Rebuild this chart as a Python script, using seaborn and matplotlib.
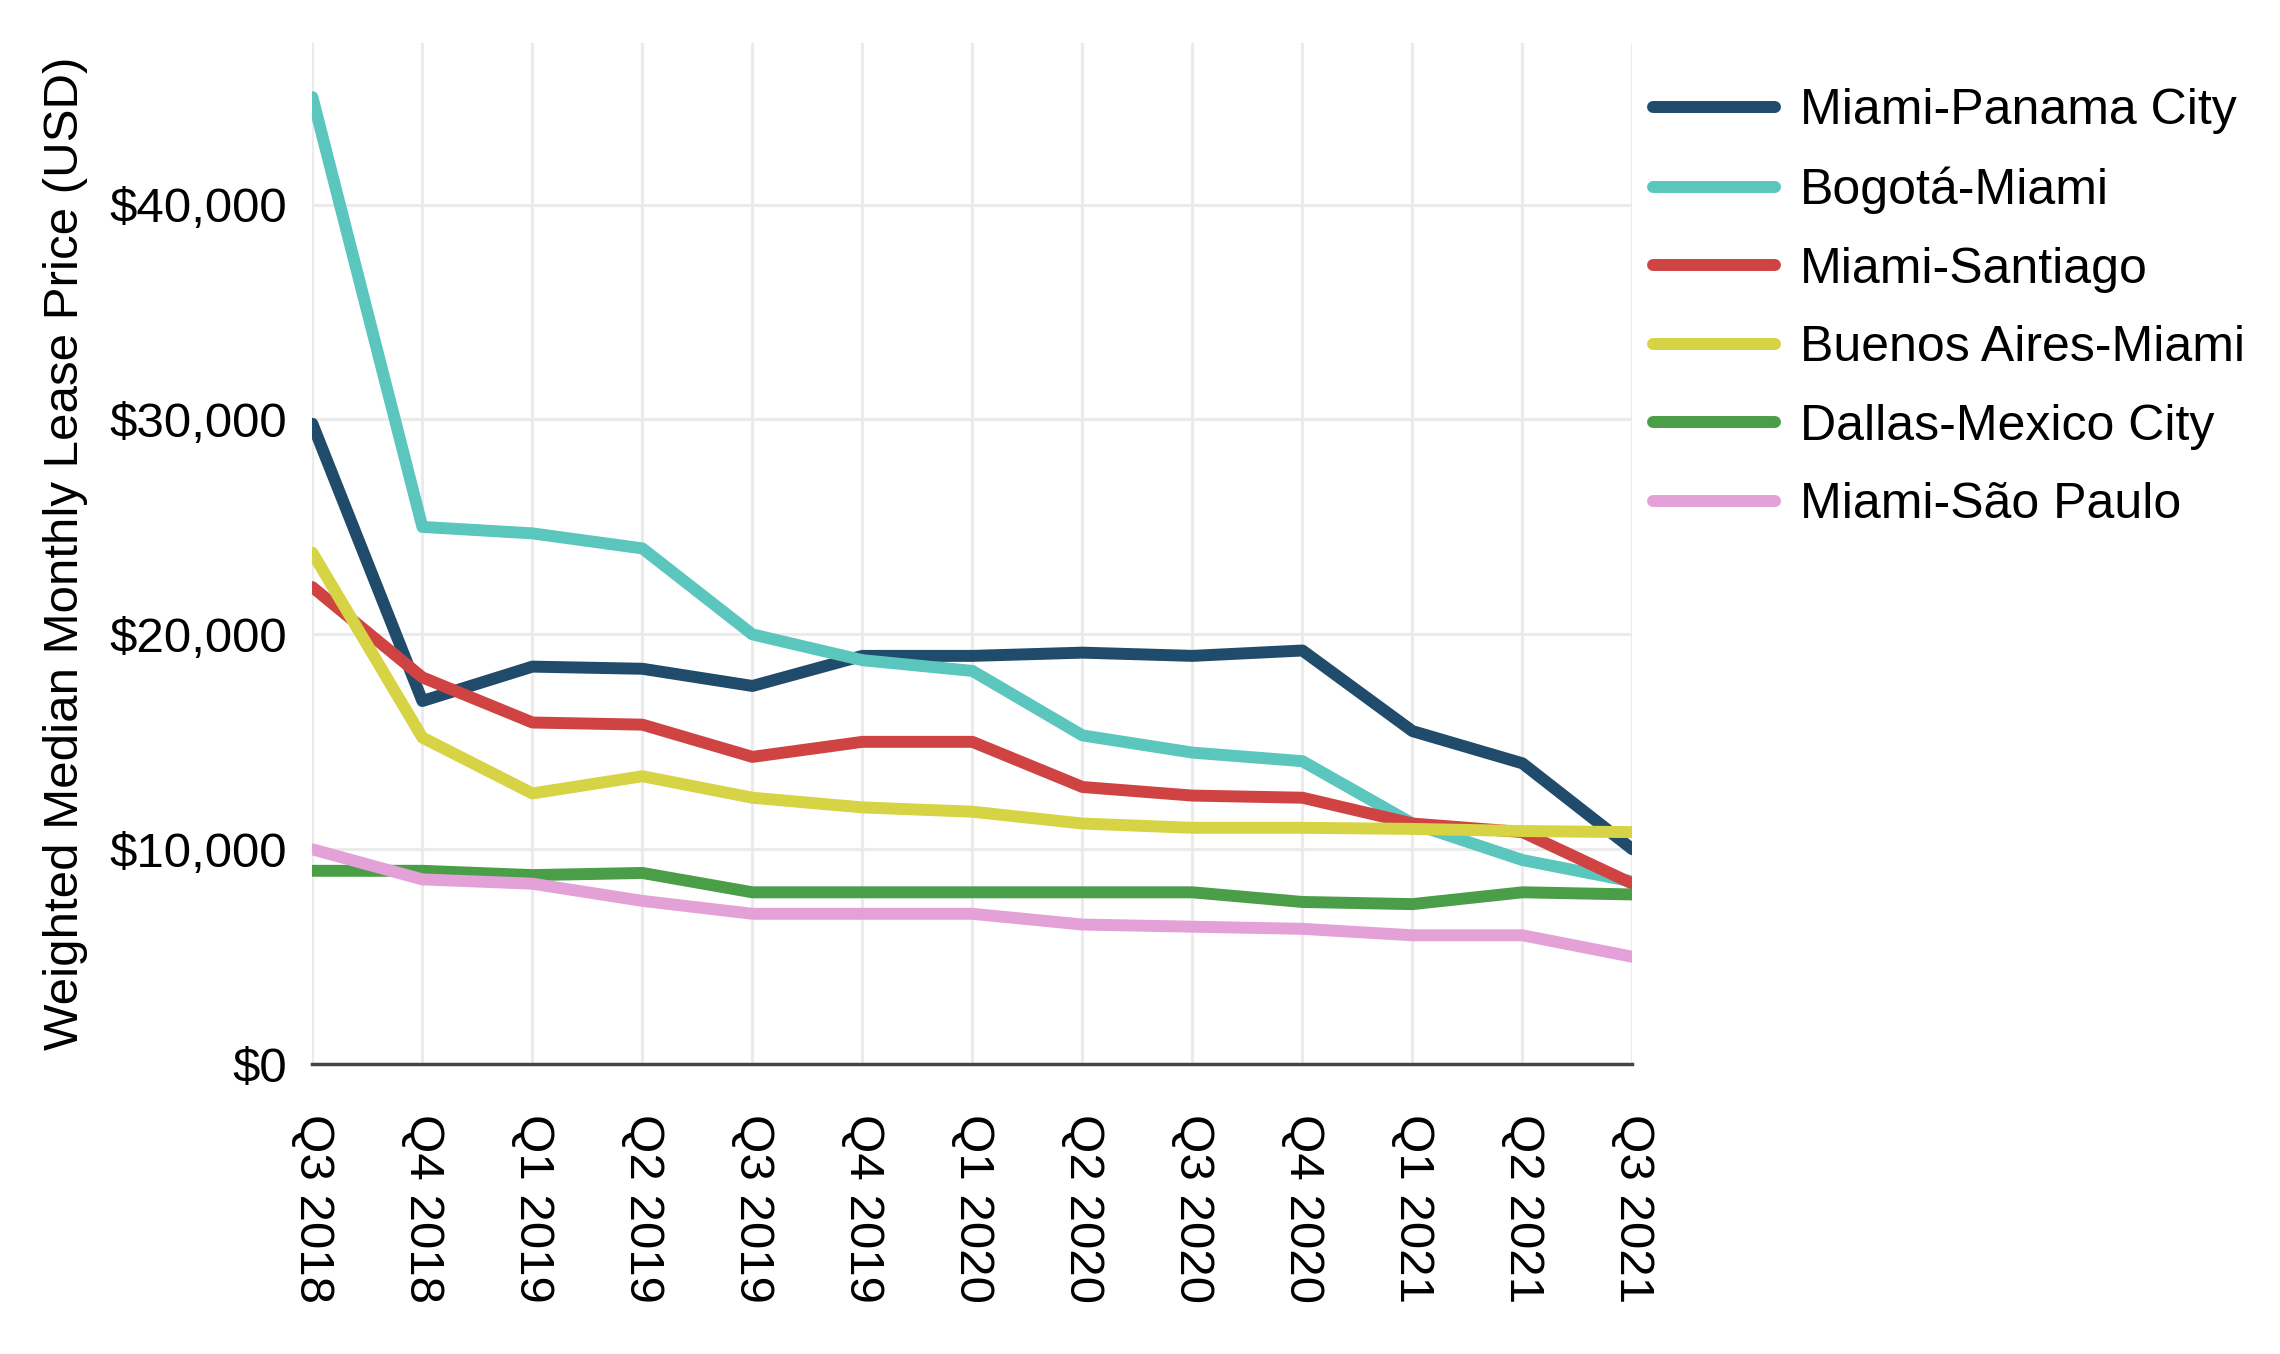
import matplotlib.pyplot as plt
import matplotlib.ticker as mticker
import pandas as pd
import seaborn as sns

quarters = ["Q3 2018", "Q4 2018", "Q1 2019", "Q2 2019", "Q3 2019", "Q4 2019", "Q1 2020",
            "Q2 2020", "Q3 2020", "Q4 2020", "Q1 2021", "Q2 2021", "Q3 2021"]

routes = ["Miami-Panama City", "Bogotá-Miami", "Miami-Santiago",
          "Buenos Aires-Miami", "Dallas-Mexico City", "Miami-São Paulo"]

miami_panama = [29800, 16900, 18500, 18400, 17600, 19000, 19000, 19150, 19000, 19250, 15500, 14000, 10000]
bogota_miami = [45000, 25000, 24700, 24000, 20000, 18800, 18300, 15300, 14500, 14100, 11200, 9500, 8500]
miami_santiago = [22200, 18000, 15900, 15800, 14300, 15000, 15000, 12900, 12500, 12400, 11200, 10800, 8400]
buenos_aires = [23800, 15200, 12600, 13400, 12400, 11950, 11750, 11200, 11000, 11000, 10950, 10850, 10800]
dallas_mexico = [9000, 9000, 8800, 8900, 8000, 8000, 8000, 8000, 8000, 7550, 7450, 8000, 7900]
miami_sao_paulo = [10000, 8600, 8400, 7600, 7000, 7000, 7000, 6500, 6400, 6300, 6000, 6000, 5000]

colors = ["#204b6b", "#5bc6bd", "#cf4443", "#d6d344", "#4a9e48", "#e3a1d7"]

series = [miami_panama, bogota_miami, miami_santiago, buenos_aires, dallas_mexico, miami_sao_paulo]
rows = []
for name, vals in zip(routes, series):
    for i, (q, v) in enumerate(zip(quarters, vals)):
        rows.append({"idx": i, "quarter": q, "route": name, "price": v})
df = pd.DataFrame(rows)

sns.set_style("whitegrid")
plt.rcParams['font.family'] = ['Liberation Sans', 'DejaVu Sans']
plt.rcParams['text.color'] = 'black'
plt.rcParams['axes.labelcolor'] = 'black'
plt.rcParams['xtick.color'] = 'black'
plt.rcParams['ytick.color'] = 'black'

fig = plt.figure(figsize=(22.8, 13.54), dpi=100)
ax = fig.add_axes([0.137, 0.214, 0.579, 0.754])

sns.lineplot(data=df, x="idx", y="price", hue="route", hue_order=routes,
             palette=colors, linewidth=8.6, ax=ax, legend=True)

ax.set_xlim(0, len(quarters) - 1)
ax.set_ylim(0, 47500)
ax.set_xticks(range(len(quarters)))
ax.set_xticklabels(quarters, rotation=-90, fontsize=35.5, va="top")
ax.set_yticks([0, 10000, 20000, 30000, 40000])
ax.yaxis.set_major_formatter(mticker.FuncFormatter(lambda v, p: "${:,.0f}".format(v)))
ax.tick_params(axis="y", labelsize=35.5, pad=18, length=0)
ax.tick_params(axis="x", pad=36, length=0)
ax.set_xlabel("")
ax.set_ylabel("Weighted Median Monthly Lease Price (USD)", fontsize=35.5, labelpad=16)

ax.grid(True, color="#ebebeb", linewidth=2.2)
for s in ["top", "right", "left"]:
    ax.spines[s].set_visible(False)
ax.spines["bottom"].set_color("#444444")
ax.spines["bottom"].set_linewidth(2.5)

leg = ax.legend(loc="upper left", bbox_to_anchor=(0.985, 0.995), frameon=False,
                fontsize=36, handlelength=2.45, handletextpad=0.5, labelspacing=0.65,
                borderaxespad=0.4)
for line in leg.get_lines():
    line.set_linewidth(8.6)

fig.savefig("out.png", dpi=100)
